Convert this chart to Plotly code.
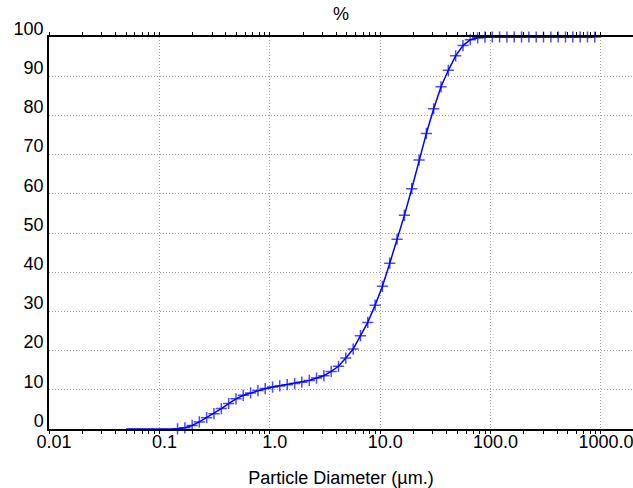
import plotly.graph_objects as go

# Particle size band edges (µm) and cumulative volume undersize (%)
size_um = [0.05, 0.058, 0.067, 0.079, 0.092, 0.107, 0.125, 0.146, 0.17, 0.198,
           0.23, 0.268, 0.312, 0.364, 0.424, 0.494, 0.575, 0.67, 0.781, 0.909,
           1.06, 1.23, 1.44, 1.68, 1.95, 2.28, 2.65, 3.09, 3.6, 4.19,
           4.88, 5.69, 6.63, 7.72, 9.0, 10.48, 12.21, 14.22, 16.57, 19.31,
           22.49, 26.2, 30.53, 35.56, 41.43, 48.27, 56.23, 65.51, 76.32, 88.91,
           103.58, 120.67, 140.58, 163.77, 190.8, 222.28, 258.95, 301.68, 351.46, 409.45,
           477.01, 555.71, 647.41, 754.23, 878.67]
cum_pct = [0.0, 0.0, 0.0, 0.0, 0.0, 0.0, 0.0, 0.05, 0.3, 0.9,
           1.8, 2.9, 3.9, 5.2, 6.5, 7.7, 8.6, 9.2, 9.8, 10.3,
           10.7, 11.0, 11.3, 11.6, 11.95, 12.4, 13.0, 13.6, 14.7, 16.0,
           18.1, 20.4, 23.8, 27.2, 31.6, 36.4, 42.3, 48.4, 54.5, 61.3,
           68.6, 75.4, 81.7, 87.3, 91.5, 95.2, 97.8, 99.3, 99.8, 99.95,
           100, 100, 100, 100, 100, 100, 100, 100, 100, 100,
           100, 100, 100, 100, 100]

decade_vals = [0.01, 0.1, 1, 10, 100, 1000]
decade_labels = ["0.01", "0.1", "1.0", "10.0", "100.0", "1000.0"]
minor_vals = [m * d for d in decade_vals for m in range(2, 10)]
grid25_vals = [m * d for d in decade_vals for m in (2, 5)]
all_tick_vals = sorted(decade_vals + minor_vals)
y_vals = list(range(0, 101, 10))

FONT = "Liberation Sans, Arial, sans-serif"
FS = 18
GRID = "#a0a0a0"
GDASH = "1px,2px"
XRANGE = [-2, 3.29]

marker_sizes = [0 if v == 0 else 8 for v in cum_pct]

fig = go.Figure()
fig.add_trace(go.Scatter(
    x=size_um, y=cum_pct, mode="lines+markers",
    line=dict(color="#0000FF", width=1.5),
    marker=dict(symbol="cross-thin", size=marker_sizes, color="#0000FF",
                line=dict(color="#0000FF", width=1.5)),
    cliponaxis=False, showlegend=False, hoverinfo="x+y"))

fig.update_layout(
    width=633, height=488,
    margin=dict(l=49, r=0, t=37, b=59, autoexpand=False),
    paper_bgcolor="white", plot_bgcolor="white",
    font=dict(family=FONT, size=FS, color="black"),
    title=dict(text="%", x=0.5, xref="paper", xanchor="center",
               y=1 - 14 / 488, yref="container", yanchor="middle",
               font=dict(size=FS, color="black")),
    xaxis=dict(
        type="log", range=XRANGE, automargin=False,
        tickmode="array", tickvals=decade_vals, ticktext=decade_labels,
        ticks="outside", ticklen=3, tickcolor="black", tickwidth=1,
        mirror="ticks", showline=True, linecolor="black", linewidth=1.5,
        showgrid=True, gridcolor=GRID, griddash=GDASH, gridwidth=1,
        zeroline=False, ticklabelshift=5, ticklabelstandoff=-7,
        ticklabeloverflow="allow",
        tickfont=dict(size=FS, color="black"),
        minor=dict(tickmode="array", tickvals=minor_vals, ticks="outside",
                   ticklen=3, tickcolor="black", tickwidth=1, showgrid=False),
        title=dict(text="Particle Diameter (µm.)", standoff=20,
                   font=dict(size=FS, color="black")),
    ),
    xaxis2=dict(
        type="log", range=XRANGE, overlaying="x", side="bottom", automargin=False,
        tickmode="array", tickvals=all_tick_vals, showticklabels=False,
        ticks="inside", ticklen=3, tickcolor="black", tickwidth=1,
        mirror="ticks", showline=False, showgrid=False, zeroline=False,
        minor=dict(tickmode="array", tickvals=grid25_vals, ticks="",
                   showgrid=True, gridcolor=GRID, griddash=GDASH, gridwidth=1),
    ),
    yaxis=dict(
        range=[0, 100], tickmode="array", tickvals=y_vals, automargin=False,
        ticks="", showline=True, linecolor="black", linewidth=1.5,
        showgrid=True, gridcolor=GRID, griddash=GDASH, gridwidth=1,
        zeroline=False, ticklabelposition="outside top", ticklabelshift=4,
        ticklabeloverflow="allow",
        tickfont=dict(size=FS, color="black"),
    ),
)

fig.write_html("out.html", config={"displayModeBar": False},
               post_script="document.body.style.margin='0';document.body.style.overflow='hidden';")
